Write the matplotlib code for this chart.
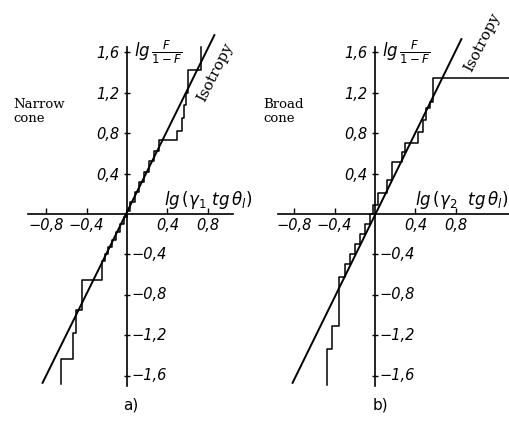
import matplotlib.pyplot as plt

# isotropy line (end points of the straight line)
iso_a_x = [-0.84, 0.87]
iso_a_y = [-1.68, 1.78]
iso_b_x = [-0.82, 0.86]
iso_b_y = [-1.68, 1.74]

# measured step curve, narrow cone
narrow_x = [-0.65, -0.65, -0.53, -0.53, -0.50, -0.50, -0.445, -0.445, -0.25, -0.25,
            -0.22, -0.22, -0.19, -0.19, -0.15, -0.15, -0.11, -0.11, -0.07, -0.07,
            -0.03, -0.03, 0.00, 0.00, 0.03, 0.03, 0.08, 0.08, 0.12, 0.12, 0.17, 0.17,
            0.22, 0.22, 0.27, 0.27, 0.32, 0.32, 0.50, 0.50, 0.54, 0.54, 0.56, 0.56,
            0.58, 0.58, 0.60, 0.60, 0.73, 0.73]
narrow_y = [-1.68, -1.44, -1.44, -1.18, -1.18, -0.95, -0.95, -0.65, -0.65, -0.47,
            -0.47, -0.40, -0.40, -0.33, -0.33, -0.26, -0.26, -0.18, -0.18, -0.10,
            -0.10, -0.03, -0.03, 0.03, 0.03, 0.12, 0.12, 0.22, 0.22, 0.32, 0.32, 0.42,
            0.42, 0.52, 0.52, 0.62, 0.62, 0.73, 0.73, 0.82, 0.82, 0.95, 0.95, 1.08,
            1.08, 1.20, 1.20, 1.43, 1.43, 1.65]

# measured step curve, broad cone
broad_x = [-0.475, -0.475, -0.43, -0.43, -0.36, -0.36, -0.30, -0.30, -0.25, -0.25,
           -0.20, -0.20, -0.15, -0.15, -0.10, -0.10, -0.05, -0.05, -0.02, -0.02,
           0.03, 0.03, 0.12, 0.12, 0.17, 0.17, 0.27, 0.27, 0.30, 0.30, 0.43, 0.43,
           0.48, 0.48, 0.51, 0.51, 0.54, 0.54, 0.57, 0.57, 1.40]
broad_y = [-1.69, -1.34, -1.34, -1.11, -1.11, -0.62, -0.62, -0.50, -0.50, -0.40,
           -0.40, -0.30, -0.30, -0.20, -0.20, -0.10, -0.10, 0.00, 0.00, 0.09,
           0.09, 0.21, 0.21, 0.34, 0.34, 0.51, 0.51, 0.61, 0.61, 0.70, 0.70, 0.81,
           0.81, 0.93, 0.93, 1.05, 1.05, 1.11, 1.11, 1.35, 1.35]

xticks = [-0.8, -0.4, 0.4, 0.8]
yticks_pos = [0.4, 0.8, 1.2, 1.6]
yticks_neg = [-0.4, -0.8, -1.2, -1.6]


def fmt(v):
    return f"{v:.1f}".replace('.', ',').replace('-', '\u2212')


tick_font = dict(fontsize=10.5, fontstyle='italic')

fig = plt.figure(figsize=(5.09, 4.32), dpi=100)

panels = [
    dict(rect=[0.057, 0.0955, 0.4008, 0.8417], xlim=(-0.97, 1.05), xbound=(-0.98, 1.05),
         iso=(iso_a_x, iso_a_y), step=(narrow_x, narrow_y),
         xlabel=r'$lg\,(\gamma_1\ tg\,\theta_l)$', xlabel_pos=(0.37, 0.14),
         iso_pos=(0.87, 1.40), side='Narrow\ncone', side_px=(13, 112),
         tag='a)', tag_px=(131, 405)),
    dict(rect=[0.5462, 0.0955, 0.4544, 0.8417], xlim=(-0.96, 1.33), xbound=(-0.96, 1.33),
         iso=(iso_b_x, iso_b_y), step=(broad_x, broad_y),
         xlabel=r'$lg\,(\gamma_2\ \ tg\,\theta_l)$', xlabel_pos=(0.40, 0.14),
         iso_pos=(1.06, 1.70), side='Broad\ncone', side_px=(263, 112),
         tag='b)', tag_px=(380, 405)),
]

for p in panels:
    ax = fig.add_axes(p['rect'])
    ax.set_xlim(*p['xlim'])
    ax.set_ylim(-1.75, 1.85)

    # cross-shaped axes through the origin
    ax.spines['top'].set_visible(False)
    ax.spines['right'].set_visible(False)
    ax.spines['left'].set_position(('data', 0))
    ax.spines['bottom'].set_position(('data', 0))
    ax.spines['left'].set_bounds(-1.70, 1.65)
    ax.spines['bottom'].set_bounds(*p['xbound'])
    ax.spines['left'].set_linewidth(1.2)
    ax.spines['bottom'].set_linewidth(1.2)

    ax.set_xticks(xticks)
    ax.set_xticklabels([fmt(v) for v in xticks], **tick_font)
    ax.set_yticks(yticks_pos + yticks_neg)
    ax.set_yticklabels([fmt(v) for v in yticks_pos] + [''] * 4, **tick_font)
    ax.tick_params(axis='x', direction='in', length=4, width=1, pad=3)
    ax.tick_params(axis='y', direction='inout', length=5, width=1, pad=3)
    for v in yticks_neg:
        ax.text(0.04, v, fmt(v), ha='left', va='center', **tick_font)

    ax.plot(*p['iso'], color='black', lw=1.4, solid_capstyle='butt')
    ax.plot(*p['step'], color='black', lw=1.1)

    ax.text(0.07, 1.60, r'$lg\,\frac{F}{1-F}$', fontsize=12, ha='left', va='center')
    ax.text(*p['xlabel_pos'], p['xlabel'], fontsize=12, ha='left', va='center')
    ax.text(*p['iso_pos'], 'Isotropy', fontsize=11, family='DejaVu Serif',
            rotation=63.4, rotation_mode='anchor', ha='center', va='center')

    fig.text(p['side_px'][0] / 509, 1 - p['side_px'][1] / 432, p['side'],
             fontsize=9.5, family='DejaVu Serif', ha='left', va='center',
             linespacing=1.1)
    fig.text(p['tag_px'][0] / 509, 1 - p['tag_px'][1] / 432, p['tag'],
             fontsize=11, ha='center', va='center')

fig.savefig('out.png', dpi=100)
